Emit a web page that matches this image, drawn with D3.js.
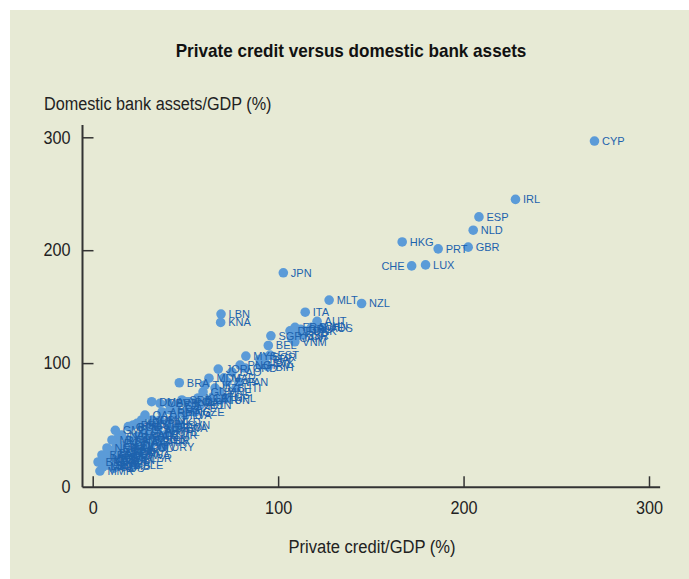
<!DOCTYPE html>
<html>
<head>
<meta charset="utf-8">
<script src="https://cdn.jsdelivr.net/npm/d3@7"></script>
<style>
  body { margin: 0; background: #fff; }
  svg { display: block; }
</style>
</head>
<body>
<svg id="canvas"></svg>
<script>
// country codes, private credit/GDP (x) and domestic bank assets/GDP (y)
let codes = [
  "CYP","IRL","ESP","NLD","GBR","PRT","HKG","LUX","CHE","JPN",
  "MLT","NZL","ITA","LBN","KNA","AUT","DEU","FRA","GRC","DNK",
  "SWE","CHN","AUS","KOR","ISR","SGP","VNM","BEL","CAN","MYS",
  "THA","BGR","EST","SVK","BIH","HRV","GRD","JOR","MDV","MAR",
  "ZAF","PAN","BRA","GUY","UKR","MNE","NPL","LCA","VCT","ATG",
  "TUN","DMA","CPV","BRB","FJI","SRB","POL","HUN","CZE","LVA",
  "LTU","SVN","CHL","BLZ","MKD","ALB","MUS","TUR","SLV","KWT",
  "BHR","URY","COL","CRI","DOM","HND","GTM","PHL","IND","KEN",
  "BOL","NAM","SYC","ECU","PER","BGD","LKA","EGY","PAK","IDN",
  "KHM","ARM","GEO","BLR","RUS","KAZ","MEX","ARG","NGA","GHA",
  "UGA","ZMB","SLB","STP","SDN","MWI","TZA","MOZ","MMR",
  "QAT","SAU","OMN","ARE","BHS","MNG","AZE","KGZ","TJK","UZB",
  "LAO","PNG","HTI","JAM","TTO","PRY","NIC","SWZ","LSO","BWA",
  "CIV","SEN","CMR","RWA","BEN","BFA","NER","MLI","TCD","GIN",
  "SLE","LBR","GMB"
];
let credit = [
  270.6, 228.0, 208.3, 205.2, 202.5, 186.3, 166.9, 179.5, 172.0, 102.8,
  127.5, 145.0, 114.6, 69.2, 69.0, 121.0, 106.4, 109.1, 112.1, 115.0,
  118.0, 120.8, 124.0, 110.0, 113.5, 96.1, 109.0, 94.7, 107.3, 82.6,
  90.2, 92.9, 95.6, 92.9, 94.5, 90.2, 82.2, 67.7, 62.7, 70.8,
  72.4, 78.9, 46.7, 59.5, 62.2, 68.6, 72.4, 52.5, 55.1, 65.0,
  68.6, 31.8, 36.3, 40.8, 45.4, 48.1, 50.8, 57.9, 55.2, 49.8,
  44.4, 47.1, 41.7, 36.3, 41.0, 30.9, 35.2, 36.3, 28.2, 30.2,
  33.7, 38.3, 26.6, 21.2, 22.8, 17.4, 19.2, 21.9, 26.4, 23.9,
  20.3, 15.6, 14.0, 12.9, 13.6, 10.2, 10.4, 16.5, 21.0, 25.5,
  29.1, 34.5, 41.7, 15.8, 11.3, 7.7, 6.1, 9.0, 12.0, 18.5,
  24.0, 14.5, 27.5, 32.0, 8.0, 11.5, 17.0, 5.5, 3.9,
  28.2, 25.5, 32.0, 37.4, 41.7, 46.0, 51.4, 56.8, 60.6, 66.0,
  75.1, 79.5, 77.3, 19.0, 23.3, 17.4, 13.6, 8.3, 5.5, 24.4,
  30.9, 35.2, 39.0, 44.4, 2.9, 5.0, 7.7, 10.4, 14.7, 19.0,
  22.8, 27.1, 12.2
];
let assets = [
  296.7, 245.0, 229.5, 217.7, 202.7, 201.2, 207.3, 187.0, 186.1, 180.0,
  155.8, 152.8, 145.1, 143.4, 136.0, 137.0, 128.6, 131.6, 129.9, 128.4,
  131.6, 132.8, 130.8, 124.0, 124.9, 124.2, 118.9, 115.6, 121.9, 106.2,
  103.3, 105.0, 107.1, 99.8, 96.8, 98.2, 95.6, 94.7, 86.6, 87.0,
  83.3, 83.3, 82.6, 74.5, 67.3, 74.3, 69.0, 65.8, 62.9, 70.2,
  67.3, 65.8, 64.4, 64.4, 62.9, 67.3, 65.8, 62.9, 56.7, 54.0,
  54.0, 45.2, 39.0, 49.6, 48.1, 36.3, 42.5, 31.9, 31.9, 40.7,
  30.4, 26.0, 24.5, 20.1, 27.5, 21.3, 43.7, 45.2, 49.6, 46.7,
  43.7, 36.3, 34.8, 29.0, 15.9, 20.1, 12.4, 17.1, 21.5, 26.0,
  34.8, 40.7, 43.7, 11.2, 6.8, 14.2, 15.7, 18.0, 24.0, 30.0,
  35.0, 9.0, 38.0, 46.0, 10.0, 16.0, 22.0, 8.0, 4.4,
  54.0, 45.2, 49.6, 56.7, 58.5, 56.7, 60.2, 69.1, 80.6, 77.9,
  92.1, 98.3, 77.9, 31.9, 33.7, 24.8, 21.3, 9.7, 8.9, 18.6,
  25.7, 31.9, 36.3, 42.5, 12.4, 18.6, 24.8, 31.9, 27.5, 14.2,
  9.7, 15.9, 40.5
];
let xTicks = [0, 100, 200, 300];
let yTicks = [0, 100, 200, 300];

let width = 689;
let height = 579;

let svg = d3.select('#canvas')
svg.attr('width', width).attr('height', height);

let font = "'Liberation Sans', Arial, sans-serif";

svg.append('rect')
   .attr('x', 10).attr('y', 10)
   .attr('width', width - 10).attr('height', height - 10)
   .attr('fill', '#e7ead5');

let xScale = d3.scaleLinear().domain([0, 300]).range([92.7, 649]);
let yScale = d3.scaleLinear().domain([0, 300]).range([476, 137.3]);

let points = codes.map((c, i) => ({code: c, x: credit[i], y: assets[i]}));

// squeeze a text a little, the original uses a condensed face
let squeeze = (sel, k) => {
  sel.each(function() {
    let len = this.getComputedTextLength();
    d3.select(this).attr('textLength', len * k).attr('lengthAdjust', 'spacingAndGlyphs');
  });
}

// title and axis titles
svg.append('text')
   .attr('x', 351).attr('y', 57)
   .attr('text-anchor', 'middle')
   .style('font-family', font).style('font-weight', 'bold').style('font-size', '19px')
   .attr('fill', '#111')
   .text('Private credit versus domestic bank assets')
   .call(squeeze, 0.9);

svg.append('text')
   .attr('x', 44).attr('y', 110)
   .style('font-family', font).style('font-size', '18px')
   .attr('fill', '#222')
   .text('Domestic bank assets/GDP (%)')
   .call(squeeze, 0.9);

svg.append('text')
   .attr('x', 372).attr('y', 553)
   .attr('text-anchor', 'middle')
   .style('font-family', font).style('font-size', '18px')
   .attr('fill', '#222')
   .text('Private credit/GDP (%)')
   .call(squeeze, 0.92);

// points and labels
let dots = svg.append('g')
dots.selectAll('circle')
    .data(points)
    .enter()
    .append('circle')
    .attr('cx', (d) => xScale(d.x))
    .attr('cy', (d) => yScale(d.y))
    .attr('r', 4.8)
    .attr('fill', '#5b9bd8');

let labels = svg.append('g')
labels.selectAll('text')
    .data(points)
    .enter()
    .append('text')
    .attr('x', (d) => d.code === 'CHE' ? xScale(d.x) - 7 : xScale(d.x) + 7.5)
    .attr('y', (d) => yScale(d.y) + 4)
    .attr('text-anchor', (d) => d.code === 'CHE' ? 'end' : 'start')
    .style('font-family', font)
    .style('font-size', '11px')
    .attr('fill', '#1d62ad')
    .text((d) => d.code);

// axes
let xAxis = d3.axisBottom(xScale).tickValues(xTicks).tickSize(-11).tickPadding(14).tickSizeOuter(0);
let yAxis = d3.axisLeft(yScale).tickValues(yTicks).tickSize(-11).tickPadding(12).tickSizeOuter(0);

let gx = svg.append('g').attr('transform', 'translate(0,' + yScale(-10) + ')').call(xAxis);
let gy = svg.append('g').attr('transform', 'translate(' + xScale(-5.5) + ',0)').call(yAxis);

[gx, gy].forEach((g) => {
  g.select('.domain').remove();
  g.selectAll('line').attr('stroke', '#333').attr('stroke-width', 1.5);
  g.selectAll('text').style('font-family', font).style('font-size', '18px').attr('fill', '#222')
   .call(squeeze, 0.9);
});

// the zero on the value axis sits on the corner, without a tick
gy.selectAll('.tick').filter((d) => d === 0)
  .attr('transform', 'translate(0,' + yScale(-10) + ')')
  .select('line').remove();

svg.append('line')
   .attr('x1', xScale(-5.5)).attr('x2', xScale(-5.5))
   .attr('y1', yScale(311)).attr('y2', yScale(-10))
   .attr('stroke', '#333').attr('stroke-width', 2);
svg.append('line')
   .attr('x1', xScale(-5.5)).attr('x2', xScale(306))
   .attr('y1', yScale(-10)).attr('y2', yScale(-10))
   .attr('stroke', '#333').attr('stroke-width', 2);
</script>
</body>
</html>
